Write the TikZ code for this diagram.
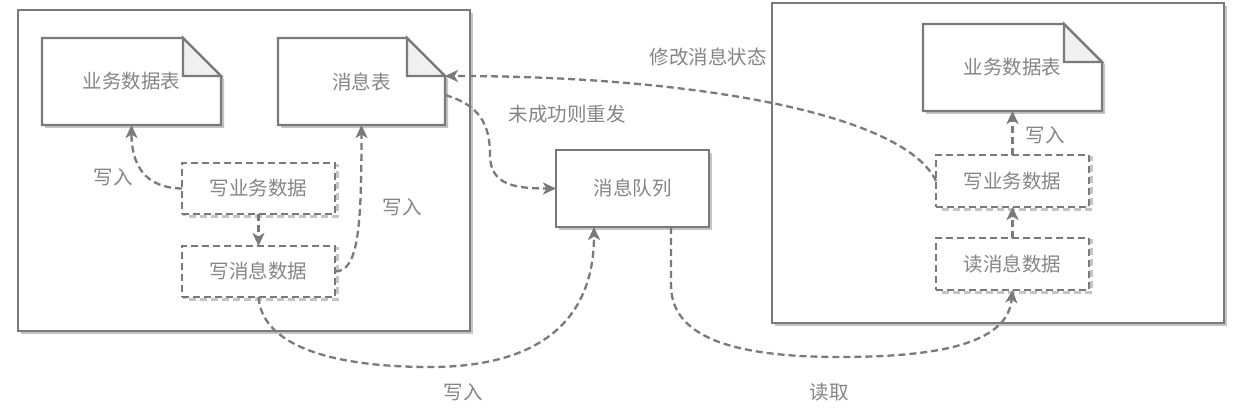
\documentclass[tikz,border=0pt]{standalone}
\usepackage{fontspec}
\setmainfont{Noto Sans CJK SC}
\usetikzlibrary{arrows.meta,shadows}
\definecolor{lc}{HTML}{7A7A7A}
\definecolor{tc}{HTML}{858585}
\definecolor{sh}{HTML}{C4C4C4}
\definecolor{foldc}{HTML}{F0F0F0}
\pgfdeclarelayer{back}
\pgfdeclarelayer{shapes}
\pgfsetlayers{back,shapes,main}
\newcommand\mydocshape[1]{%
 \fill[sh] ([shift={(3,3)}]#1.north west) -- ([shift={(-35,3)}]#1.north east) -- ([shift={(3,41)}]#1.north east) -- ([shift={(3,3)}]#1.south east) -- ([shift={(3,3)}]#1.south west) -- cycle;
 \filldraw[fill=white, draw=lc, line width=2.3pt] (#1.north west) -- ([shift={(-38,0)}]#1.north east) -- ([shift={(0,38)}]#1.north east) -- (#1.south east) -- (#1.south west) -- cycle;
 \filldraw[fill=foldc, draw=lc, line width=2.3pt] ([shift={(-38,0)}]#1.north east) -- ([shift={(-38,38)}]#1.north east) -- ([shift={(0,38)}]#1.north east) -- cycle;
}
\newcommand\mydashshadow[1]{%
 \draw[sh, line width=2.3pt, dash pattern=on 7pt off 4pt] ([shift={(2.5,2.5)}]#1.north west) rectangle ([shift={(2.5,2.5)}]#1.south east);
}
\begin{document}
\begin{tikzpicture}[x=1pt,y=-1pt,
 every node/.style={font=\fontsize{19.5}{20}\selectfont, text=tc, inner sep=0pt, outer sep=0pt},
 container/.style={draw=lc, line width=2.3pt, fill=white, minimum width=452, minimum height=321,
   drop shadow={shadow xshift=3pt, shadow yshift=-3pt, fill=sh, opacity=1}},
 docnode/.style={minimum height=87},
 dbox/.style={draw=lc, line width=2.3pt, dash pattern=on 7pt off 4pt, fill=white, minimum width=153, minimum height=51},
 qbox/.style={draw=lc, line width=2.3pt, fill=white, minimum width=153, minimum height=77,
   drop shadow={shadow xshift=3pt, shadow yshift=-3pt, fill=sh, opacity=1}},
 conn/.style={draw=lc, line width=2.3pt, dash pattern=on 7pt off 4pt, -{Stealth[length=13pt, width=12pt, inset=3.5pt]}},
 lbl/.style={text=tc}
]
\useasboundingbox (0,0) rectangle (1248,411);

\begin{pgfonlayer}{back}
\node[container] (left) at (244,170.5) {};
\node[container, minimum height=320] (right) at (998,163) {};
\end{pgfonlayer}

% documents
\node[docnode, minimum width=179] (bt1) at (131.5,81.5) {业务数据表};
\node[docnode, minimum width=167] (mt) at (361.5,81.5) {消息表};
\node[docnode, minimum width=179] (bt2) at (1012.5,67.5) {业务数据表};
\begin{pgfonlayer}{shapes}
\mydocshape{bt1}
\mydocshape{mt}
\mydocshape{bt2}
\end{pgfonlayer}

% dashed process boxes
\node[dbox] (wb1) at (258.5,188.5) {写业务数据};
\node[dbox] (wm1) at (258.5,271.5) {写消息数据};
\node[dbox, minimum height=52] (wb2) at (1012.5,181) {写业务数据};
\node[dbox, minimum height=52] (wr) at (1012.5,264) {读消息数据};
\begin{pgfonlayer}{shapes}
\mydashshadow{wb1}
\mydashshadow{wm1}
\mydashshadow{wb2}
\mydashshadow{wr}
\end{pgfonlayer}

% queue
\node[qbox] (mq) at (632.5,188.5) {消息队列};

% labels
\node[lbl] (l1) at (113,177) {写入};
\node[lbl] (l2) at (402,207) {写入};
\node[lbl] (l3) at (567,114) {未成功则重发};
\node[lbl] (l4) at (708,57) {修改消息状态};
\node[lbl] (l5) at (1045,135) {写入};
\node[lbl] (l6) at (463,392) {写入};
\node[lbl] (l7) at (829,392) {读取};

% connectors
\draw[conn] (wb1.west) .. controls (145,188) and (131.5,165) .. (bt1.south);
\draw[conn] (wb1.south) -- (wm1.north);
\draw[conn] (wm1.east) .. controls (358,271.5) and (361.5,230) .. (mt.south);
\draw[conn] ([shift={(0,13.5)}]mt.east) .. controls (480,105) and (490,125) .. (490,155) .. controls (490,185) and (515,188.5) .. (mq.west);
\draw[conn] (wb2.west) .. controls (905,115) and (700,76) .. ([shift={(0,38)}]mt.north east);
\draw[conn] (wm1.south) .. controls (262,345) and (330,367) .. (430,367) .. controls (540,367) and (594,320) .. ([shift={(-38.5,0)}]mq.south);
\draw[conn] ([shift={(38.5,0)}]mq.south) -- (671,285) .. controls (671,340) and (740,357) .. (840,357) .. controls (950,357) and (1008,340) .. (wr.south);
\draw[conn] (wr.north) -- (wb2.south);
\draw[conn] (wb2.north) -- (bt2.south);
\end{tikzpicture}
\end{document}
